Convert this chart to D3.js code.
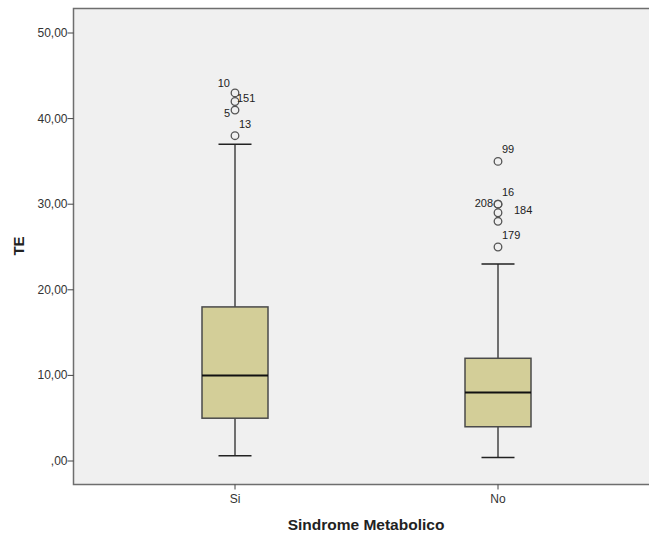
<!doctype html>
<html lang="en">

<head>
  <meta charset="UTF-8">
  <title>TE por Sindrome Metabolico</title>
  <style type="text/css">
    body { margin: 0; background: #fff; }
    svg { display: block; font-family: Arial, "Liberation Sans", sans-serif; }
  </style>
  <script src="https://cdn.jsdelivr.net/npm/d3@7/dist/d3.min.js"></script>
</head>

<body>
  <svg width="649" height="537"></svg>
  <script>
    // data
    let groups = ["Si", "No"]
    let lowWhisker = [0.6, 0.4]
    let q1 = [5, 4]
    let median = [10, 8]
    let q3 = [18, 12]
    let highWhisker = [37, 23]
    // outliers per group: value and case number
    let outlierValues = [[43, 42, 41, 38], [35, 30, 30, 29, 28, 25]]
    let outlierIds = [["10", "151", "5", "13"], ["99", "16", "208", "184", "", "179"]]
    let yTicks = [0, 10, 20, 30, 40, 50]

    // where each case label sits next to its point
    let labelSide = [["ul", "r", "l", "ur"], ["ur", "ur", "l2", "rr", "", "ur"]]

    let svg = d3.select('svg')
    let pLeft = 73.5, pTop = 8.5, pBottom = 484.5, pRight = 660

    let y = d3.scaleLinear().domain([0, 50]).range([461, 33])
    let x = d3.scalePoint().domain(groups).range([235, 498])
    let boxW = 66, capW = 33

    // plot background and frame
    svg.append('rect')
      .attr('x', pLeft).attr('y', pTop)
      .attr('width', pRight - pLeft).attr('height', pBottom - pTop)
      .attr('fill', '#f0f0f0')
    svg.append('path')
      .attr('d', `M${pRight},${pTop}H${pLeft}V${pBottom}H${pRight}`)
      .attr('fill', 'none').attr('stroke', '#6e6e6e').attr('stroke-width', 1.5)

    // y axis
    let fmt = d => d === 0 ? ',00' : d3.format('.2f')(d).replace('.', ',')
    let yAxis = svg.append('g')
    yAxis.selectAll('line').data(yTicks).enter().append('line')
      .attr('x1', pLeft - 6).attr('x2', pLeft)
      .attr('y1', d => y(d)).attr('y2', d => y(d))
      .attr('stroke', '#444')
    yAxis.selectAll('text').data(yTicks).enter().append('text')
      .attr('x', pLeft - 6).attr('y', d => y(d) + 4)
      .attr('text-anchor', 'end').attr('font-size', 12).attr('fill', '#333')
      .text(fmt)

    // x axis
    let xAxis = svg.append('g')
    xAxis.selectAll('line').data(groups).enter().append('line')
      .attr('x1', d => x(d)).attr('x2', d => x(d))
      .attr('y1', pBottom).attr('y2', pBottom + 5)
      .attr('stroke', '#444')
    xAxis.selectAll('text').data(groups).enter().append('text')
      .attr('x', d => x(d)).attr('y', pBottom + 18)
      .attr('text-anchor', 'middle').attr('font-size', 12).attr('fill', '#333')
      .text(d => d)

    // titles
    svg.append('text')
      .attr('x', 366).attr('y', 530)
      .attr('text-anchor', 'middle').attr('font-size', 15.5).attr('font-weight', 'bold')
      .attr('fill', '#222')
      .text('Sindrome Metabolico')
    svg.append('text')
      .attr('transform', 'translate(23.5,246) rotate(-90)')
      .attr('text-anchor', 'middle').attr('font-size', 15).attr('font-weight', 'bold')
      .attr('fill', '#222')
      .text('TE')

    // boxes
    let boxes = svg.selectAll('g.box')
      .data(groups)
      .enter().append('g').attr('class', 'box')

    boxes.append('line')
      .attr('x1', d => x(d)).attr('x2', d => x(d))
      .attr('y1', (d, i) => y(highWhisker[i])).attr('y2', (d, i) => y(lowWhisker[i]))
      .attr('stroke', '#444').attr('stroke-width', 1.5)
    boxes.append('line')
      .attr('x1', d => x(d) - capW / 2).attr('x2', d => x(d) + capW / 2)
      .attr('y1', (d, i) => y(highWhisker[i])).attr('y2', (d, i) => y(highWhisker[i]))
      .attr('stroke', '#222').attr('stroke-width', 1.5)
    boxes.append('line')
      .attr('x1', d => x(d) - capW / 2).attr('x2', d => x(d) + capW / 2)
      .attr('y1', (d, i) => y(lowWhisker[i])).attr('y2', (d, i) => y(lowWhisker[i]))
      .attr('stroke', '#222').attr('stroke-width', 1.5)
    boxes.append('rect')
      .attr('x', d => x(d) - boxW / 2).attr('width', boxW)
      .attr('y', (d, i) => y(q3[i])).attr('height', (d, i) => y(q1[i]) - y(q3[i]))
      .attr('fill', '#d3ce98').attr('stroke', '#4a4a4a').attr('stroke-width', 1.5)
    boxes.append('line')
      .attr('x1', d => x(d) - boxW / 2).attr('x2', d => x(d) + boxW / 2)
      .attr('y1', (d, i) => y(median[i])).attr('y2', (d, i) => y(median[i]))
      .attr('stroke', '#111').attr('stroke-width', 2)

    // outliers
    let offsets = {
      ul: { dx: -5, dy: -6, anchor: 'end' },
      ur: { dx: 4, dy: -8, anchor: 'start' },
      r: { dx: 2, dy: 1, anchor: 'start' },
      rr: { dx: 16, dy: 1.5, anchor: 'start' },
      l: { dx: -5, dy: 7, anchor: 'end' },
      l2: { dx: -5, dy: 3, anchor: 'end' }
    }
    groups.forEach((g, gi) => {
      let pts = outlierValues[gi].map((v, k) => ({ v: v, id: outlierIds[gi][k], side: labelSide[gi][k] }))
      let og = svg.append('g')
      og.selectAll('circle').data(pts).enter().append('circle')
        .attr('cx', x(g)).attr('cy', d => y(d.v)).attr('r', 3.8)
        .attr('fill', 'none').attr('stroke', '#555').attr('stroke-width', 1.3)
      og.selectAll('text').data(pts.filter(d => d.id)).enter().append('text')
        .attr('x', d => x(g) + offsets[d.side].dx)
        .attr('y', d => y(d.v) + offsets[d.side].dy)
        .attr('text-anchor', d => offsets[d.side].anchor)
        .attr('font-size', 11).attr('fill', '#222')
        .text(d => d.id)
    })
  </script>
</body>

</html>
